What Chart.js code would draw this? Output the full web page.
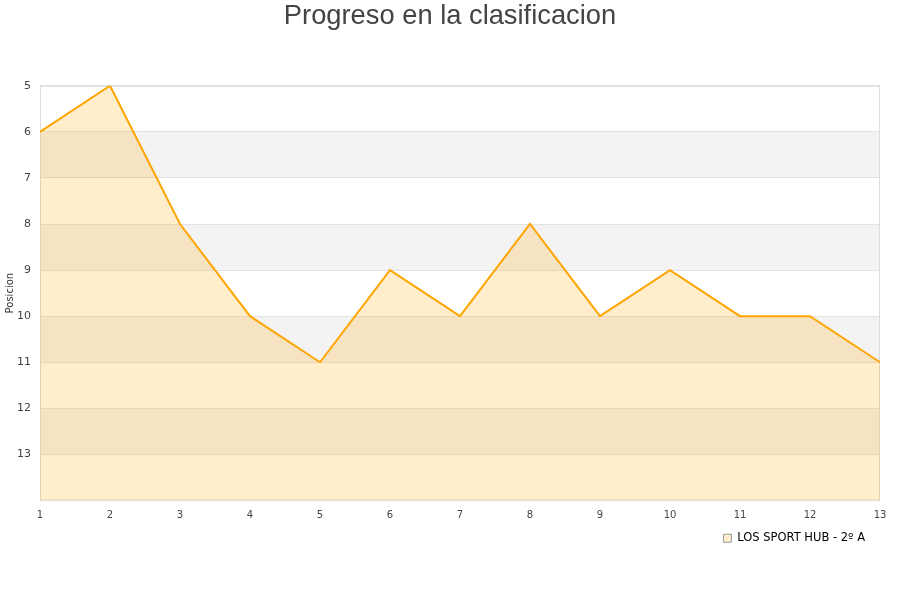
<!DOCTYPE html>
<html>
<head>
<meta charset="utf-8">
<script src="https://cdn.jsdelivr.net/npm/chart.js@4"></script>
<style>
  body { margin: 0; background: #fff; }
  #wrap { width: 900px; height: 600px; }
</style>
</head>
<body>
<div id="wrap"><canvas id="chart"></canvas></div>
<script>
// Jornadas y posiciones
const jornadas = ['1', '2', '3', '4', '5', '6', '7', '8', '9', '10', '11', '12', '13'];
const posiciones = [6, 5, 8, 10, 11, 9, 10, 8, 10, 9, 10, 10, 11];
const equipo = 'LOS SPORT HUB - 2º A';

// Alternating background bands + frame of the plot area
const bandsPlugin = {
    id: 'bands',
    afterLayout(chart) {
        // pull the legend a little away from the right edge
        if (chart.legend) chart.legend.right -= 5;
        // center the title on the whole canvas
        if (chart.titleBlock) chart.titleBlock.right = chart.width;
    },
    beforeDraw(chart) {
        const { ctx, chartArea, scales } = chart;
        const y = scales.y;
        ctx.save();
        ctx.fillStyle = '#f3f3f3';
        for (let v = 6; v < 14; v += 2) {
            const top = y.getPixelForValue(v);
            const bottom = y.getPixelForValue(v + 1);
            ctx.fillRect(chartArea.left, top, chartArea.right - chartArea.left, bottom - top);
        }
        ctx.restore();
    },
    beforeDatasetsDraw(chart) {
        const { ctx, chartArea } = chart;
        ctx.save();
        ctx.strokeStyle = '#dcdcdc';
        ctx.lineWidth = 1;
        ctx.strokeRect(chartArea.left + 0.5, chartArea.top + 0.5,
            chartArea.right - chartArea.left - 1, chartArea.bottom - chartArea.top - 1);
        ctx.restore();
    }
};

const ctx = document.getElementById('chart').getContext('2d');
new Chart(ctx, {
    type: 'line',
    data: {
        labels: jornadas,
        datasets: [{
            label: equipo,
            data: posiciones,
            borderColor: '#ffa500',
            backgroundColor: 'rgba(255, 165, 0, 0.2)',
            borderWidth: 2,
            pointRadius: 0,
            tension: 0,
            fill: 'start'
        }]
    },
    options: {
        responsive: true,
        maintainAspectRatio: false,
        animation: false,
        layout: { padding: { left: 0, right: 20, top: 0, bottom: 46 } },
        plugins: {
            title: {
                display: true,
                text: 'Progreso en la clasificacion',
                color: '#444',
                font: { family: 'Liberation Sans, Arial, sans-serif', size: 27.3, weight: 'normal' },
                padding: { top: 0, bottom: 53 }
            },
            legend: {
                position: 'bottom',
                align: 'end',
                labels: {
                    color: '#222',
                    boxWidth: 8,
                    boxHeight: 8,
                    padding: 10,
                    font: { family: 'DejaVu Sans, sans-serif', size: 11.5 },
                    generateLabels(chart) {
                        return [{
                            text: equipo,
                            fillStyle: 'rgba(255, 165, 0, 0.2)',
                            strokeStyle: '#999',
                            lineWidth: 1,
                            datasetIndex: 0
                        }];
                    }
                }
            },
            tooltip: { enabled: false }
        },
        scales: {
            x: {
                offset: false,
                afterFit(scale) { scale.height = 22; },
                grid: { display: false, drawTicks: false },
                border: { display: false },
                ticks: {
                    color: '#444',
                    maxRotation: 0,
                    autoSkip: false,
                    padding: 9,
                    font: { family: 'DejaVu Sans, sans-serif', size: 10 }
                }
            },
            y: {
                reverse: true,
                min: 5,
                max: 14,
                afterFit(scale) { scale.width = 40; },
                grid: { color: '#e2e2e2', drawTicks: false },
                border: { display: false },
                title: {
                    display: true,
                    text: 'Posicion',
                    color: '#333',
                    padding: { top: 4, bottom: 0 },
                    font: { family: 'DejaVu Sans, sans-serif', size: 10 }
                },
                ticks: {
                    stepSize: 1,
                    color: '#444',
                    padding: 9,
                    font: { family: 'DejaVu Sans, sans-serif', size: 11 },
                    callback: v => (v === 14 ? '' : v)
                }
            }
        }
    },
    plugins: [bandsPlugin]
});
</script>
</body>
</html>
